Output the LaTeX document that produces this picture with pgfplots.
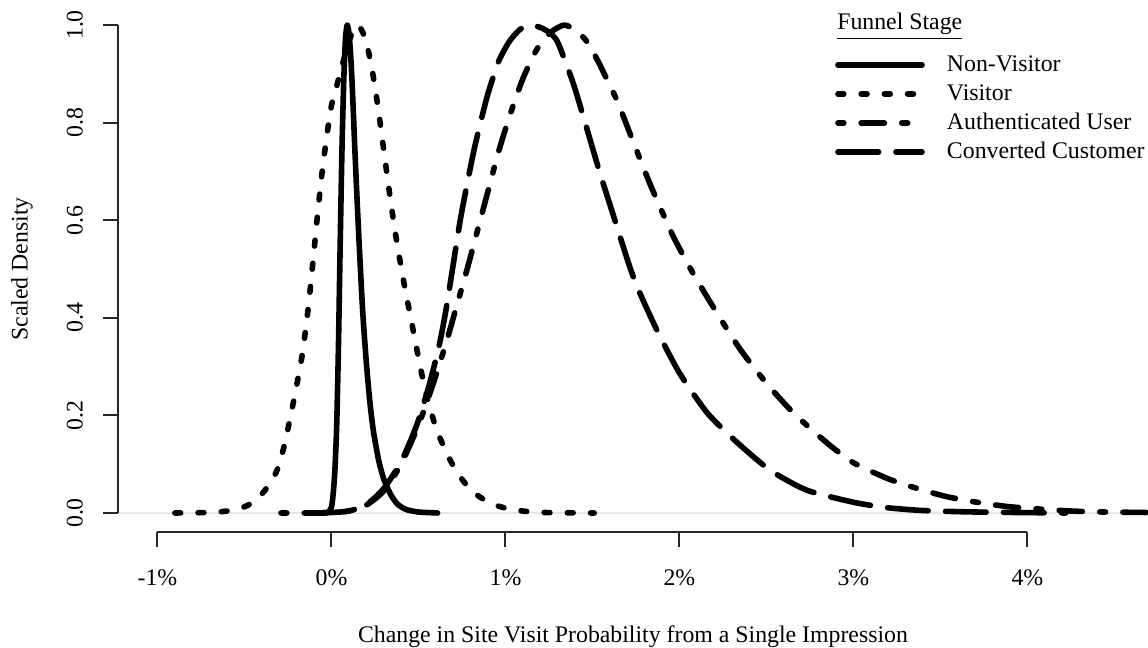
\documentclass[border=0pt]{standalone}
\usepackage{fontspec}
\setmainfont{Liberation Serif}
\usepackage{pgfplots}
\pgfplotsset{compat=1.18}

\tikzset{
  rline/.style={black, line width=2.8pt, line cap=round, line join=round},
  nonvisitor/.style={rline},
  visitor/.style={rline, dash pattern=on 2.9pt off 8.7pt},
  authuser/.style={rline, dash pattern=on 2.9pt off 8.7pt on 11.6pt off 8.7pt},
  converted/.style={rline, dash pattern=on 20.3pt off 8.7pt},
}

\begin{document}
\fontsize{11.9}{14}\selectfont
\begin{tikzpicture}
% 1 px of the reference = 0.5pt
\path[use as bounding box] (-59pt,-57.75pt) rectangle (515pt,266.25pt);
\begin{axis}[
  at={(0,0)}, anchor=south west,
  scale only axis, width=515pt, height=263.5pt,
  xmin=-1.227, xmax=4.693, ymin=-0.04, ymax=1.04,
  clip=false, no markers,
  axis line style={draw=none},
  xtick={-1,0,1,2,3,4}, xticklabels={-1\%,0\%,1\%,2\%,3\%,4\%},
  ytick={0,0.2,0.4,0.6,0.8,1}, yticklabels={0.0,0.2,0.4,0.6,0.8,1.0},
  xtick pos=bottom, ytick pos=left,
  tick align=outside, major tick length=7.5pt,
  tick style={black!85, line width=1pt},
  xticklabel style={anchor=center, yshift=-15.25pt},
  yticklabel style={xshift=-14pt, rotate=90, anchor=center},
  xlabel={Change in Site Visit Probability from a Single Impression},
  ylabel={Scaled Density},
  xlabel style={at={(axis description cs:0.5,-0.1983)}, anchor=center},
  ylabel style={at={(axis description cs:-0.0932,0.5)}, anchor=center},
  legend style={at={(axis cs:2.894,0.9406)}, anchor=north west,
    draw=none, fill=none, inner sep=0pt, outer sep=0pt, row sep=3.5pt,
    nodes={inner sep=0pt, text height=8.5pt, text depth=2.5pt}},
  legend cell align=left,
  legend image code/.code={\draw[#1] (1.5pt,0pt) -- (43.5pt,0pt); \path[draw=none] (0pt,0pt) -- (56pt,0pt);},
  smooth, tension=0.4,
]
\addplot[black!10, line width=1pt, sharp plot, forget plot] coordinates {(-1.227,0) (4.693,0)};

\addplot[nonvisitor] coordinates {
(-0.14,0) (-0.06,0) (-0.02,0.001) (0.0,0.012) (0.01,0.04) (0.02,0.09)
(0.03,0.18) (0.04,0.34) (0.05,0.55) (0.06,0.74) (0.07,0.88) (0.08,0.97)
(0.09,1.0) (0.10,0.985) (0.11,0.94) (0.12,0.87) (0.135,0.74) (0.15,0.62)
(0.165,0.51) (0.18,0.41) (0.20,0.31) (0.22,0.23) (0.24,0.17) (0.27,0.11)
(0.30,0.07) (0.34,0.038) (0.38,0.018) (0.43,0.007) (0.50,0.002) (0.61,0)
};
\addlegendentry{Non-Visitor}

\addplot[visitor] coordinates {
(-0.90,0) (-0.70,0.001) (-0.60,0.004) (-0.53,0.009) (-0.48,0.016) (-0.43,0.028)
(-0.39,0.043) (-0.35,0.063) (-0.31,0.09) (-0.27,0.14) (-0.22,0.225) (-0.17,0.32)
(-0.135,0.416) (-0.105,0.52) (-0.08,0.612) (-0.05,0.71) (-0.02,0.79) (0.0,0.835)
(0.03,0.875) (0.06,0.915) (0.09,0.955) (0.12,0.985) (0.15,1.0) (0.18,0.985)
(0.21,0.95) (0.24,0.895) (0.27,0.825) (0.30,0.745) (0.33,0.665) (0.36,0.59)
(0.39,0.525) (0.42,0.465) (0.45,0.41) (0.48,0.355) (0.51,0.30) (0.54,0.25)
(0.57,0.21) (0.61,0.165) (0.66,0.125) (0.71,0.09) (0.77,0.06) (0.84,0.036)
(0.92,0.019) (1.0,0.01) (1.1,0.004) (1.22,0.001) (1.51,0)
};
\addlegendentry{Visitor}

\addplot[authuser] coordinates {
(-0.29,0) (-0.1,0) (0.0,0.001) (0.10,0.004) (0.20,0.016) (0.30,0.045)
(0.40,0.10) (0.50,0.18) (0.58,0.26) (0.66,0.35) (0.72,0.425) (0.78,0.50)
(0.84,0.58) (0.90,0.66) (0.96,0.74) (1.03,0.82) (1.10,0.89) (1.18,0.95)
(1.26,0.985) (1.34,1.0) (1.42,0.985) (1.48,0.96) (1.54,0.92) (1.64,0.846)
(1.735,0.76) (1.83,0.675) (1.96,0.57) (2.08,0.49) (2.215,0.41) (2.35,0.335)
(2.50,0.266) (2.655,0.205) (2.85,0.143) (3.0,0.103) (3.2,0.07) (3.36,0.051)
(3.53,0.034) (3.71,0.022) (3.89,0.013) (4.07,0.008) (4.25,0.004) (4.44,0.002)
(4.693,0.001)
};
\addlegendentry{Authenticated User}

\addplot[converted] coordinates {
(-0.10,0) (0.0,0.001) (0.10,0.004) (0.20,0.017) (0.30,0.05) (0.40,0.105)
(0.49,0.18) (0.56,0.26) (0.62,0.345) (0.66,0.42) (0.70,0.51) (0.74,0.60)
(0.78,0.675) (0.82,0.745) (0.86,0.805) (0.90,0.86) (0.96,0.925) (1.02,0.965)
(1.08,0.99) (1.14,1.0) (1.20,0.995) (1.25,0.985) (1.30,0.965) (1.39,0.88)
(1.47,0.785) (1.54,0.70) (1.62,0.61) (1.70,0.52) (1.755,0.465) (1.87,0.375)
(2.0,0.287) (2.16,0.205) (2.33,0.145) (2.52,0.088) (2.73,0.047) (3.0,0.022)
(3.19,0.011) (3.4,0.005) (3.7,0.002) (4.22,0)
};
\addlegendentry{Converted Customer}

% R-style axis lines: only from first to last tick
\draw[black!85, line width=1pt] (axis cs:-1,-0.04) -- (axis cs:4,-0.04);
\draw[black!85, line width=1pt] (axis cs:-1.227,0) -- (axis cs:-1.227,1);
\node[anchor=base west, inner sep=0pt] at (axis cs:2.905,0.9898) {\underline{Funnel Stage}};
\end{axis}
\end{tikzpicture}
\end{document}
